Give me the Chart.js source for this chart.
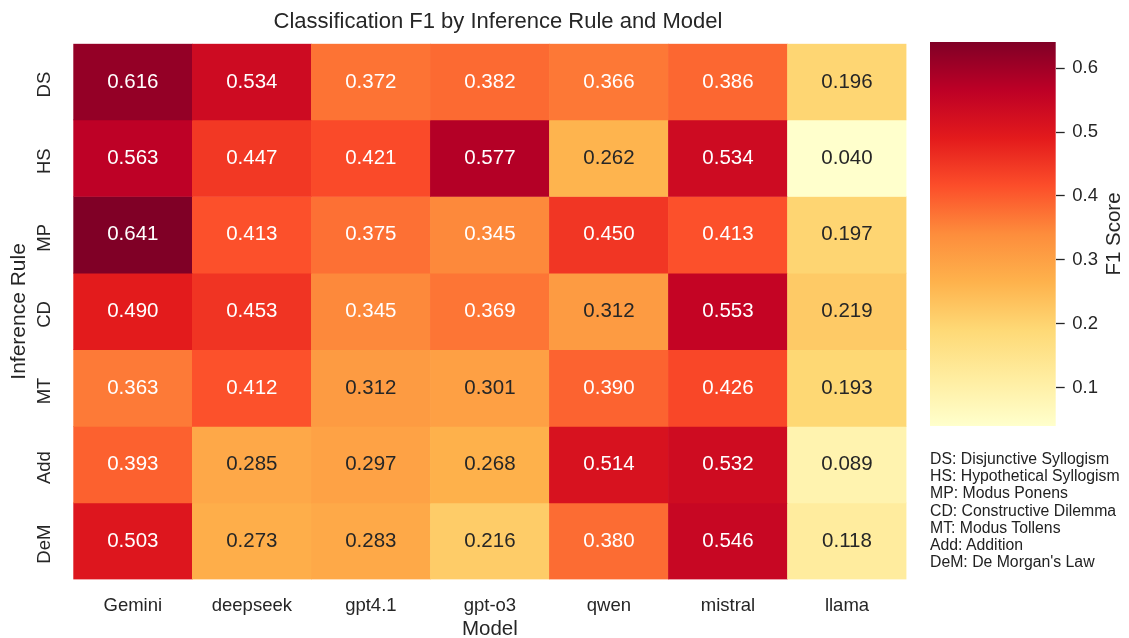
<!DOCTYPE html>
<html>
<head>
<meta charset="utf-8">
<script src="https://cdn.jsdelivr.net/npm/chart.js@4.4.1/dist/chart.umd.min.js"></script>
<style>
  body { margin: 0; background: #fff; font-family: "Liberation Sans", Arial, sans-serif; }
  #main { position: absolute; left: 0; top: 0; width: 1129px; height: 638px; }
  #bar { position: absolute; left: 930px; top: 42px; width: 199px; height: 384px; }
  #titulo { position: absolute; left: 0; top: 8px; width: 996px; text-align: center; font-size: 22px; line-height: 26px; color: #262626; }
  #notes { position: absolute; left: 930px; top: 450px; font-size: 15.8px; line-height: 17.2px; color: #222; white-space: pre; }
</style>
</head>
<body>
<div id="main"><canvas id="grafico"></canvas></div>
<div id="bar"><canvas id="escala"></canvas></div>
<div id="titulo">Classification F1 by Inference Rule and Model</div>
<div id="notes"></div>
<script>
let modelos = ["Gemini", "deepseek", "gpt4.1", "gpt-o3", "qwen", "mistral", "llama"];
let regras = ["DS", "HS", "MP", "CD", "MT", "Add", "DeM"];
let nomes = ["DS: Disjunctive Syllogism", "HS: Hypothetical Syllogism", "MP: Modus Ponens",
  "CD: Constructive Dilemma", "MT: Modus Tollens", "Add: Addition", "DeM: De Morgan's Law"];

let f1_DS  = [0.616, 0.534, 0.372, 0.382, 0.366, 0.386, 0.196];
let f1_HS  = [0.563, 0.447, 0.421, 0.577, 0.262, 0.534, 0.040];
let f1_MP  = [0.641, 0.413, 0.375, 0.345, 0.450, 0.413, 0.197];
let f1_CD  = [0.490, 0.453, 0.345, 0.369, 0.312, 0.553, 0.219];
let f1_MT  = [0.363, 0.412, 0.312, 0.301, 0.390, 0.426, 0.193];
let f1_Add = [0.393, 0.285, 0.297, 0.268, 0.514, 0.532, 0.089];
let f1_DeM = [0.503, 0.273, 0.283, 0.216, 0.380, 0.546, 0.118];
let linhas = [f1_DS, f1_HS, f1_MP, f1_CD, f1_MT, f1_Add, f1_DeM];

let escalaTicks = [0.1, 0.2, 0.3, 0.4, 0.5, 0.6];
let vmin = 0.040, vmax = 0.641;

document.getElementById("notes").textContent = nomes.join("\n");

// YlOrRd
let paleta = [[255,255,204],[255,237,160],[254,217,118],[254,178,76],[253,141,60],[252,78,42],[227,26,28],[189,0,38],[128,0,38]];
function cor(v) {
  let t = Math.min(1, Math.max(0, (v - vmin) / (vmax - vmin))) * (paleta.length - 1);
  let i = Math.min(paleta.length - 2, Math.floor(t));
  let f = t - i;
  return paleta[i].map((a, k) => Math.round(a + (paleta[i + 1][k] - a) * f));
}
function rgb(c) { return "rgb(" + c.join(",") + ")"; }
function luminancia(c) {
  let l = c.map(x => { x /= 255; return x <= 0.03928 ? x / 12.92 : Math.pow((x + 0.055) / 1.055, 2.4); });
  return 0.2126 * l[0] + 0.7152 * l[1] + 0.0722 * l[2];
}

const fonte = '"Liberation Sans", Arial, sans-serif';
Chart.defaults.font.family = fonte;
Chart.defaults.color = "#262626";

let anotar = {
  id: "anotar",
  afterDraw(chart) {
    let ctx = chart.ctx;
    ctx.save();
    ctx.font = "20.5px " + fonte;
    ctx.textAlign = "center";
    ctx.textBaseline = "middle";
    chart.data.datasets.forEach((ds, i) => {
      chart.getDatasetMeta(i).data.forEach((el, j) => {
        let v = linhas[i][j];
        ctx.fillStyle = luminancia(cor(v)) > 0.408 ? "#262626" : "#ffffff";
        ctx.fillText(v.toFixed(3), el.x, (el.y + el.base) / 2);
      });
    });
    // rótulos do eixo y
    let y = chart.scales.y;
    ctx.font = "18.5px " + fonte;
    ctx.fillStyle = "#262626";
    regras.forEach((r, i) => {
      ctx.save();
      ctx.translate(45, y.getPixelForValue(i + 0.5) + 3);
      ctx.rotate(-Math.PI / 2);
      ctx.fillText(r, 0, 0);
      ctx.restore();
    });
    ctx.restore();
  },
};

let grafico = new Chart(document.getElementById("grafico"), {
  type: "bar",
  data: {
    labels: modelos,
    datasets: regras.map((r, i) => ({
      label: r,
      data: linhas[i].map(() => 1),
      backgroundColor: linhas[i].map(v => rgb(cor(v))),
      borderWidth: 0,
      barPercentage: 1,
      categoryPercentage: 1,
    })),
  },
  options: {
    responsive: true,
    maintainAspectRatio: false,
    animation: false,
    layout: { padding: { left: 0, top: 43.3, right: 222.5, bottom: 0 } },
    plugins: {
      legend: { display: false },
      tooltip: { enabled: false },
    },
    scales: {
      x: {
        stacked: true,
        z: 1,
        grid: { offset: true, color: "#ffffff", lineWidth: 1.5, drawTicks: false },
        border: { display: false },
        ticks: { font: { size: 18.5 }, padding: 15, color: "#262626" },
        title: { display: true, text: "Model", font: { size: 20.5, lineHeight: 0.8 }, padding: 0, color: "#262626" },
        afterFit(s) { s.height = 58.5; },
      },
      y: {
        stacked: true,
        reverse: true,
        min: 0,
        max: 7,
        z: 1,
        grid: { color: "#ffffff", lineWidth: 1.5, drawTicks: false },
        border: { display: false },
        ticks: { stepSize: 1, display: false },
        title: { display: true, text: "Inference Rule", font: { size: 21, lineHeight: 1.2 }, padding: { top: 7, bottom: 0 }, color: "#262626" },
        afterFit(s) { s.width = 73.3; },
      },
    },
  },
  plugins: [anotar],
});

let rotuloBarra = {
  id: "rotuloBarra",
  afterDraw(chart) {
    let ctx = chart.ctx;
    let a = chart.chartArea;
    ctx.save();
    ctx.font = "20.5px " + fonte;
    ctx.fillStyle = "#262626";
    ctx.textAlign = "center";
    ctx.textBaseline = "middle";
    ctx.translate(184.7, (a.top + a.bottom) / 2);
    ctx.rotate(-Math.PI / 2);
    ctx.fillText("F1 Score", 0, 0);
    ctx.restore();
  },
};

let barra = new Chart(document.getElementById("escala"), {
  type: "bar",
  data: {
    labels: [""],
    datasets: [{
      data: [[vmin, vmax]],
      barPercentage: 1,
      categoryPercentage: 1,
      borderWidth: 0,
      backgroundColor(c) {
        let a = c.chart.chartArea;
        if (!a) return "#fff";
        let g = c.chart.ctx.createLinearGradient(0, a.bottom, 0, a.top);
        paleta.forEach((p, i) => g.addColorStop(i / (paleta.length - 1), rgb(p)));
        return g;
      },
    }],
  },
  options: {
    responsive: true,
    maintainAspectRatio: false,
    animation: false,
    layout: { padding: 0 },
    plugins: { legend: { display: false }, tooltip: { enabled: false } },
    scales: {
      x: { display: false },
      y: {
        position: "right",
        min: vmin,
        max: vmax,
        grid: { drawOnChartArea: false, drawTicks: true, tickLength: 9, tickWidth: 1.3, tickColor: "#262626" },
        border: { display: false },
        ticks: { font: { size: 18.5 }, padding: 7.5, color: "#262626", callback: v => v.toFixed(1) },
        afterBuildTicks(s) { s.ticks = escalaTicks.map(v => ({ value: v })); },
        afterFit(s) { s.width = 73.3; s.paddingTop = 0; s.paddingBottom = 0; },
      },
    },
  },
  plugins: [rotuloBarra],
});
</script>
</body>
</html>
